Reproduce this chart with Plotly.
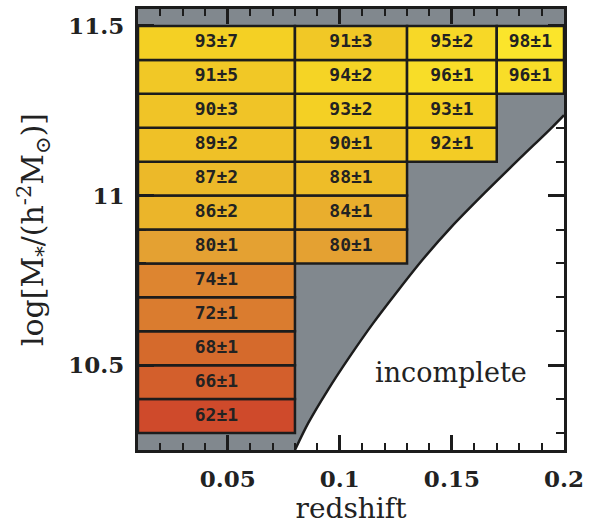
import plotly.graph_objects as go

# ---- data ----
z_bins = [0.01, 0.08, 0.13, 0.17, 0.20]
mass_bins = [10.3, 10.4, 10.5, 10.6, 10.7, 10.8, 10.9, 11.0, 11.1, 11.2, 11.3, 11.4, 11.5]

# fractions (%) per redshift column, from lowest filled mass bin up to 11.5
frac_col1 = [62, 66, 68, 72, 74, 80, 86, 87, 89, 90, 91, 93]
err_col1 = [1, 1, 1, 1, 1, 1, 2, 2, 2, 3, 5, 7]
frac_col2 = [80, 84, 88, 90, 93, 94, 91]
err_col2 = [1, 1, 1, 1, 2, 2, 3]
frac_col3 = [92, 93, 96, 95]
err_col3 = [1, 1, 1, 2]
frac_col4 = [96, 98]
err_col4 = [1, 1]

columns = [(frac_col1, err_col1), (frac_col2, err_col2), (frac_col3, err_col3), (frac_col4, err_col4)]

# completeness limit curve
curve_z = [0.080, 0.0859, 0.0946, 0.1042, 0.1149, 0.1261, 0.1368, 0.1497, 0.1645, 0.1796, 0.1948, 0.2000]
curve_m = [10.25, 10.329, 10.426, 10.523, 10.624, 10.721, 10.810, 10.907, 11.007, 11.105, 11.202, 11.237]

x_range = [0.01, 0.20]
y_range = [10.25, 11.55]

colorscale = [
    [0.0, "#cf4a2b"],
    [0.1667, "#d56a2c"],
    [0.3333, "#dd8530"],
    [0.5, "#e4a132"],
    [0.6667, "#ebb52a"],
    [0.8611, "#f4d024"],
    [1.0, "#fbe52b"],
]
ink = "#1c1c1c"
grey = "#81888e"

fig = go.Figure()

# white "incomplete" region below the curve
fig.add_trace(go.Scatter(
    x=curve_z + [x_range[1], curve_z[0]],
    y=curve_m + [y_range[0], curve_m[0]],
    mode="lines", fill="toself", fillcolor="white",
    line=dict(width=0), hoverinfo="skip", showlegend=False,
))
fig.add_trace(go.Scatter(
    x=curve_z, y=curve_m, mode="lines",
    line=dict(color=ink, width=2.5, shape="spline", smoothing=0.8),
    showlegend=False, hoverinfo="skip",
))

txt_x, txt_y, txt = [], [], []
for i, (fr, er) in enumerate(columns):
    n = len(fr)
    lows = mass_bins[-(n + 1):-1]
    highs = mass_bins[-n:]
    heights = [h - l for l, h in zip(lows, highs)]
    xc = (z_bins[i] + z_bins[i + 1]) / 2
    w = z_bins[i + 1] - z_bins[i]
    fig.add_trace(go.Bar(
        x=[xc] * n, y=heights, base=lows, width=[w] * n,
        marker=dict(color=fr, colorscale=colorscale, cmin=62, cmax=98,
                    line=dict(color=ink, width=2.5)),
        showlegend=False, hoverinfo="skip",
    ))
    for l, h, f, e in zip(lows, highs, fr, er):
        txt_x.append(xc)
        txt_y.append((l + h) / 2)
        txt.append(f"{f}±{e}")

fig.add_trace(go.Scatter(
    x=txt_x, y=txt_y, text=txt, mode="text",
    textfont=dict(family="DejaVu Sans Mono", size=18, color="#222222", weight="bold"),
    showlegend=False, hoverinfo="skip",
))

fig.add_annotation(
    x=0.1497, y=10.479, text="incomplete", showarrow=False,
    font=dict(family="DejaVu Serif", size=27, color="#222222"),
)

axis_common = dict(
    ticks="inside", tickcolor=ink, tickwidth=2.5,
    showline=True, linecolor=ink, linewidth=3, mirror="allticks",
    showgrid=False, zeroline=False, layer="above traces",
    ticklabelstandoff=6, automargin=False,
    tickfont=dict(family="DejaVu Serif", size=23, color="#222222", weight="bold"),
)

fig.update_xaxes(
    range=x_range, tickvals=[0.05, 0.1, 0.15, 0.2], ticktext=["0.05", "0.1", "0.15", "0.2"],
    ticklen=15,
    minor=dict(dtick=0.01, tick0=0, ticklen=7, tickwidth=2, ticks="inside", tickcolor=ink, showgrid=False),
    title=dict(text="redshift", font=dict(family="DejaVu Serif", size=28, color="#222222"), standoff=12),
    **axis_common,
)
fig.update_yaxes(
    range=y_range, tickvals=[10.5, 11, 11.5], ticktext=["10.5", "11", "11.5"],
    ticklen=16,
    minor=dict(dtick=0.1, tick0=10.0, ticklen=8, tickwidth=2, ticks="inside", tickcolor=ink, showgrid=False),
    title=dict(text="log[M<sub>*</sub>/(h<sup>-2</sup>M<sub>⊙</sub>)]",
               font=dict(family="DejaVu Serif", size=30, color="#222222"), standoff=16),
    **axis_common,
)

fig.update_layout(
    width=595, height=525,
    margin=dict(l=138, r=31, t=9, b=75),
    plot_bgcolor=grey, paper_bgcolor="white",
    barmode="overlay", showlegend=False,
)

fig.write_html("out.html")
